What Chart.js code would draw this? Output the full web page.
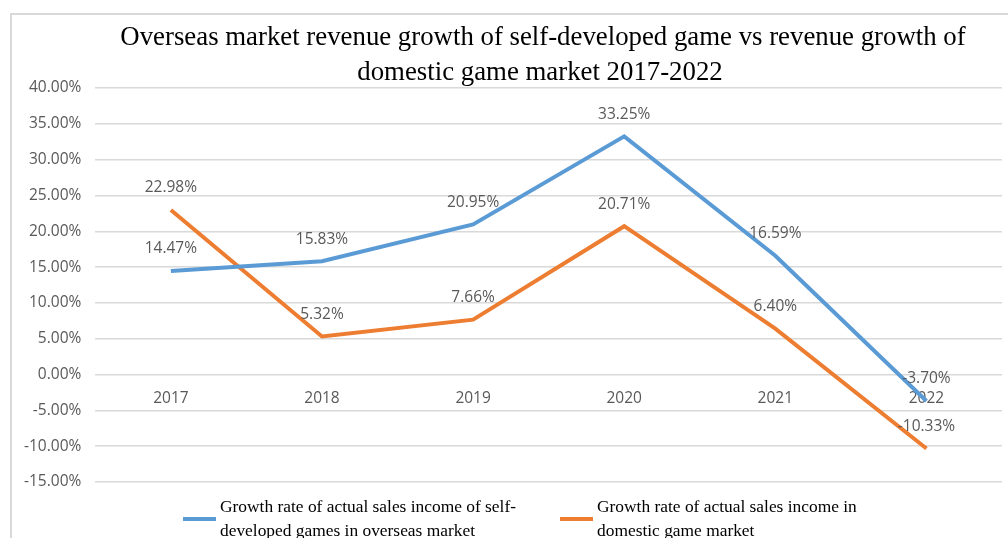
<!DOCTYPE html>
<html>
<head>
<meta charset="utf-8">
<script src="https://cdn.jsdelivr.net/npm/chart.js@4.4.1/dist/chart.umd.min.js"></script>
<style>
  html, body { margin: 0; padding: 0; background: #fff; }
  #wrap { width: 1008px; height: 538px; position: relative; }
</style>
</head>
<body>
<div id="wrap"><canvas id="c" width="1008" height="538"></canvas></div>
<script>
// Years on the category axis
const years = ['2017', '2018', '2019', '2020', '2021', '2022'];
// Growth rate (%) of self-developed games' sales income in overseas markets
const overseasGrowth = [14.47, 15.83, 20.95, 33.25, 16.59, -3.70];
// Growth rate (%) of sales income in the domestic game market
const domesticGrowth = [22.98, 5.32, 7.66, 20.71, 6.40, -10.33];
// Legend text, one entry per series, split into lines
const seriesNames = [
  ['Growth rate of actual sales income of self-', 'developed games in overseas market'],
  ['Growth rate of actual sales income in', 'domestic game market']
];
const titleLines = [
  'Overseas market revenue growth of self-developed game vs revenue growth of',
  'domestic game market 2017-2022'
];

const BLUE = '#5b9bd5';
const ORANGE = '#ed7d31';
const SANS = '"Open Sans", "Liberation Sans", sans-serif';
const LABEL_FONT = '15.5px ' + SANS;

// Frame, title, value labels and legend drawn on the canvas
const decor = {
  id: 'decor',
  beforeDraw(chart) {
    const ctx = chart.ctx;
    ctx.save();
    ctx.strokeStyle = '#d9d9d9';
    ctx.lineWidth = 2;
    ctx.beginPath();
    ctx.moveTo(11, 540);
    ctx.lineTo(11, 14);
    ctx.lineTo(1010, 14);
    ctx.stroke();
    ctx.restore();
  },
  afterDatasetsDraw(chart) {
    const ctx = chart.ctx;
    ctx.save();
    // value labels above each point
    ctx.font = LABEL_FONT;
    ctx.fillStyle = '#595959';
    ctx.textAlign = 'center';
    ctx.textBaseline = 'middle';
    chart.data.datasets.forEach((ds, i) => {
      const meta = chart.getDatasetMeta(i);
      meta.data.forEach((pt, j) => {
        ctx.fillText(ds.data[j].toFixed(2) + '%', pt.x, pt.y - 22);
      });
    });
    ctx.restore();
  },
  afterDraw(chart) {
    const ctx = chart.ctx;
    ctx.save();
    // title
    ctx.fillStyle = '#000';
    ctx.font = '26.8px "Liberation Serif", "Times New Roman", serif';
    ctx.textAlign = 'center';
    ctx.textBaseline = 'middle';
    ctx.fillText(titleLines[0], 543, 38);
    ctx.fillText(titleLines[1], 540, 73);
    // legend
    const colors = [BLUE, ORANGE];
    const xs = [183, 560];
    ctx.font = '17.4px "Liberation Serif", "Times New Roman", serif';
    ctx.textAlign = 'left';
    seriesNames.forEach((lines, i) => {
      ctx.strokeStyle = colors[i];
      ctx.lineWidth = 4;
      ctx.beginPath();
      ctx.moveTo(xs[i], 519);
      ctx.lineTo(xs[i] + 33, 519);
      ctx.stroke();
      ctx.fillStyle = '#000';
      lines.forEach((ln, k) => {
        ctx.fillText(ln, xs[i] + 37, 507 + k * 24);
      });
    });
    ctx.restore();
  }
};

new Chart(document.getElementById('c'), {
  type: 'line',
  data: {
    labels: years,
    datasets: [
      {
        label: seriesNames[0].join(' '),
        data: overseasGrowth,
        borderColor: BLUE,
        backgroundColor: BLUE,
        borderWidth: 4,
        pointRadius: 0,
        tension: 0
      },
      {
        label: seriesNames[1].join(' '),
        data: domesticGrowth,
        borderColor: ORANGE,
        backgroundColor: ORANGE,
        borderWidth: 4,
        pointRadius: 0,
        tension: 0
      }
    ]
  },
  options: {
    responsive: false,
    animation: false,
    layout: { padding: { top: 88, bottom: 56, left: 10, right: 6 } },
    plugins: {
      legend: { display: false },
      title: { display: false },
      tooltip: { enabled: false }
    },
    scales: {
      x: {
        position: { y: 0 },
        offset: true,
        grid: { display: false },
        border: { display: false },
        ticks: {
          color: '#595959',
          font: { family: SANS, size: 15.5 },
          padding: 7
        }
      },
      y: {
        min: -15,
        max: 40,
        grid: { color: '#d9d9d9', lineWidth: 1.5, drawTicks: false },
        border: { display: false },
        ticks: {
          stepSize: 5,
          color: '#595959',
          padding: 14,
          font: { family: SANS, size: 15.5 },
          callback: v => v.toFixed(2) + '%'
        }
      }
    }
  },
  plugins: [decor]
});
</script>
</body>
</html>
